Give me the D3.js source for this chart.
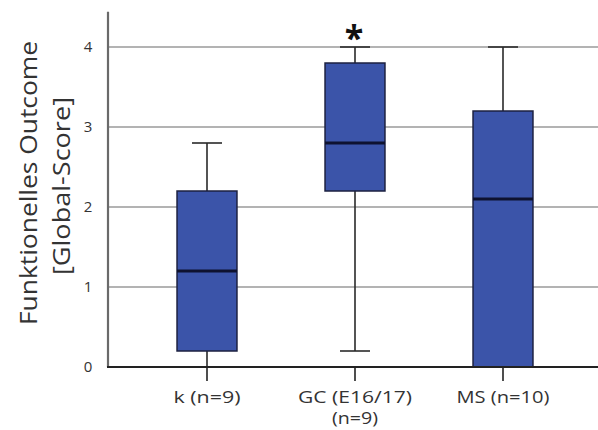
<!DOCTYPE html>
<html>
<head>
<meta charset="utf-8">
<script src="https://cdn.jsdelivr.net/npm/d3@7"></script>
<style>
  html, body { margin: 0; padding: 0; background: #fff; }
  svg { display: block; }
  text { font-family: "Open Sans", "DejaVu Sans", sans-serif; }
</style>
</head>
<body>
<svg id="chart" width="598" height="430"></svg>
<script>
// Groups shown on the x axis (first line / optional second line)
const groups = ["k", "GC", "MS"];
const groupLabels = [["k (n=9)"], ["GC (E16/17)", "(n=9)"], ["MS (n=10)"]];

// Box-plot statistics per group: whisker min, Q1, median, Q3, whisker max
const whiskerMin = [0.0, 0.2, 0.0];
const q1 = [0.2, 2.2, 0.0];
const median = [1.2, 2.8, 2.1];
const q3 = [2.2, 3.8, 3.2];
const whiskerMax = [2.8, 4.0, 4.0];

// Significance markers per group
const markers = ["", "*", ""];

// Y axis ticks
const yTicks = [0, 1, 2, 3, 4];
const yTitle = ["Funktionelles Outcome", "[Global-Score]"];

const W = 598, H = 430;
const svg = d3.select("#chart");

const y = d3.scaleLinear().domain([0, 4]).range([367, 47]);
const x = d3.scaleBand().domain(groups).range([133, 577]).padding(0);
const cx = g => x(g) + x.bandwidth() / 2;
const boxW = x.bandwidth() * 0.405;
const capW = 30;
const axisLeft = 108;

const rows = groups.map((g, i) => ({
  g, lo: whiskerMin[i], q1: q1[i], med: median[i], q3: q3[i], hi: whiskerMax[i],
  label: groupLabels[i], mark: markers[i]
}));

// Horizontal gridlines
svg.append("g").selectAll("line").data(yTicks.filter(t => t > 0)).join("line")
  .attr("x1", axisLeft).attr("x2", W)
  .attr("y1", d => y(d)).attr("y2", d => y(d))
  .attr("stroke", "#9a9a9a").attr("stroke-width", 1.6);

// Y axis line and tick labels
svg.append("line")
  .attr("x1", axisLeft).attr("x2", axisLeft)
  .attr("y1", y(4.44)).attr("y2", y(0))
  .attr("stroke", "#6a6a6a").attr("stroke-width", 2.2);

svg.append("g").selectAll("text").data(yTicks).join("text")
  .attr("x", 88).attr("y", d => y(d))
  .attr("dy", "0.36em")
  .attr("text-anchor", "middle")
  .attr("font-size", 15)
  .attr("fill", "#333")
  .text(d => d);

// Y axis title (two rotated lines)
const titleG = svg.append("g").attr("transform", "translate(0,183) rotate(-90)");
titleG.append("text")
  .attr("x", 0).attr("y", 37)
  .attr("text-anchor", "middle")
  .attr("font-size", 23)
  .attr("fill", "#333")
  .attr("textLength", 284).attr("lengthAdjust", "spacingAndGlyphs")
  .text(yTitle[0]);
titleG.append("text")
  .attr("x", -3).attr("y", 70)
  .attr("text-anchor", "middle")
  .attr("font-size", 23)
  .attr("fill", "#333")
  .attr("textLength", 178).attr("lengthAdjust", "spacingAndGlyphs")
  .text(yTitle[1]);

// Box plots
const box = svg.append("g").selectAll("g").data(rows).join("g");

box.append("line")
  .attr("x1", d => cx(d.g)).attr("x2", d => cx(d.g))
  .attr("y1", d => y(d.hi)).attr("y2", d => y(d.lo))
  .attr("stroke", "#2a2a2a").attr("stroke-width", 1.6);

box.selectAll("line.cap").data(d => [d.lo, d.hi].map(v => ({ g: d.g, v }))).join("line")
  .attr("class", "cap")
  .attr("x1", d => cx(d.g) - capW / 2).attr("x2", d => cx(d.g) + capW / 2)
  .attr("y1", d => y(d.v)).attr("y2", d => y(d.v))
  .attr("stroke", "#2a2a2a").attr("stroke-width", 1.6);

box.append("rect")
  .attr("x", d => cx(d.g) - boxW / 2)
  .attr("width", boxW)
  .attr("y", d => y(d.q3))
  .attr("height", d => y(d.q1) - y(d.q3))
  .attr("fill", "#3b54a9")
  .attr("stroke", "#1c2040").attr("stroke-width", 1.5);

box.append("line")
  .attr("x1", d => cx(d.g) - boxW / 2).attr("x2", d => cx(d.g) + boxW / 2)
  .attr("y1", d => y(d.med)).attr("y2", d => y(d.med))
  .attr("stroke", "#0e1230").attr("stroke-width", 3.2);

box.filter(d => d.mark).append("text")
  .attr("x", d => cx(d.g) - 1).attr("y", y(4) + 3)
  .attr("text-anchor", "middle")
  .attr("font-size", 34)
  .attr("font-weight", "bold")
  .attr("fill", "#111")
  .text(d => d.mark);

// X axis line and ticks
svg.append("line")
  .attr("x1", axisLeft - 1).attr("x2", W)
  .attr("y1", y(0)).attr("y2", y(0))
  .attr("stroke", "#222").attr("stroke-width", 2);

svg.append("g").selectAll("line").data(groups).join("line")
  .attr("x1", d => cx(d)).attr("x2", d => cx(d))
  .attr("y1", y(0)).attr("y2", y(0) + 14)
  .attr("stroke", "#222").attr("stroke-width", 1.6);

// X category labels
const labelWidths = { "k (n=9)": 67, "GC (E16/17)": 114, "(n=9)": 46, "MS (n=10)": 93 };
const xl = svg.append("g").selectAll("g").data(rows).join("g");
xl.selectAll("text").data(d => d.label.map((t, i) => ({ g: d.g, t, i }))).join("text")
  .attr("x", d => cx(d.g))
  .attr("y", d => 403 + d.i * 21)
  .attr("text-anchor", "middle")
  .attr("font-size", 16)
  .attr("fill", "#333")
  .attr("textLength", d => labelWidths[d.t])
  .attr("lengthAdjust", "spacingAndGlyphs")
  .text(d => d.t);
</script>
</body>
</html>
